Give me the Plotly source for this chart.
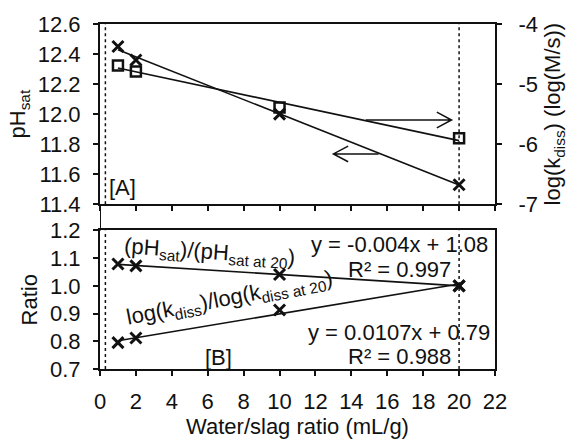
import numpy as np
import plotly.graph_objects as go

# ---- data ----
ratio_ws = [1, 2, 10, 20]                     # water/slag ratio (mL/g)
ph_sat = [12.45, 12.36, 12.00, 11.53]         # pH_sat (left axis, x markers)
log_kdiss = [-4.69, -4.79, -5.39, -5.90]      # log(k_diss) (right axis, squares)
ph_ratio = [1.079, 1.072, 1.041, 1.000]       # (pH_sat)/(pH_sat at 20)
kdiss_ratio = [0.795, 0.812, 0.913, 1.000]    # log(k_diss)/log(k_diss at 20)

x_ticks = list(range(0, 23, 2))
ph_ticks = [11.4, 11.6, 11.8, 12.0, 12.2, 12.4, 12.6]
k_ticks = [-7, -6, -5, -4]
k_ticklabels = ["-7", "-6", "-5", "-4"]
ratio_ticks = [0.7, 0.8, 0.9, 1.0, 1.1, 1.2]

FONT = "Liberation Sans, Arial, sans-serif"
FS = 22
BLACK = "#111111"

def fit_line(x, y):
    k, b = np.polyfit(x, y, 1)
    xs = np.array([min(x), max(x)], dtype=float)
    return xs, k * xs + b

fig = go.Figure()

xmark = dict(symbol="x-thin", size=11, line=dict(width=3, color=BLACK), color=BLACK)
sqmark = dict(symbol="square-open", size=10, line=dict(width=2.5, color=BLACK), color=BLACK)
fitline = dict(color=BLACK, width=1.6)

# top panel
fx, fy = fit_line(ratio_ws, ph_sat)
fig.add_trace(go.Scatter(x=fx, y=fy, mode="lines", line=fitline, xaxis="x2", yaxis="y2", showlegend=False))
fx, fy = fit_line(ratio_ws, log_kdiss)
fig.add_trace(go.Scatter(x=fx, y=fy, mode="lines", line=fitline, xaxis="x2", yaxis="y3", showlegend=False))
fig.add_trace(go.Scatter(x=ratio_ws, y=ph_sat, mode="markers", marker=xmark, xaxis="x2", yaxis="y2", showlegend=False))
fig.add_trace(go.Scatter(x=ratio_ws, y=log_kdiss, mode="markers", marker=sqmark, xaxis="x2", yaxis="y3", showlegend=False))

# bottom panel
fx, fy = fit_line(ratio_ws, ph_ratio)
fig.add_trace(go.Scatter(x=fx, y=fy, mode="lines", line=fitline, xaxis="x", yaxis="y", showlegend=False))
fx, fy = fit_line(ratio_ws, kdiss_ratio)
fig.add_trace(go.Scatter(x=fx, y=fy, mode="lines", line=fitline, xaxis="x", yaxis="y", showlegend=False))
fig.add_trace(go.Scatter(x=ratio_ws, y=ph_ratio, mode="markers", marker=xmark, xaxis="x", yaxis="y", showlegend=False))
fig.add_trace(go.Scatter(x=ratio_ws, y=kdiss_ratio, mode="markers", marker=xmark, xaxis="x", yaxis="y", showlegend=False))

TOP_DOM = [0.4775, 1.0]
BOT_DOM = [0.0, 0.4017]

axis_common = dict(showgrid=False, zeroline=False, showline=True, linecolor=BLACK, linewidth=2,
                   ticks="outside", ticklen=5, tickwidth=1.5, tickcolor=BLACK,
                   tickfont=dict(family=FONT, size=FS, color=BLACK))

fig.update_layout(
    width=573, height=442,
    margin=dict(l=100, r=72, t=14, b=72),
    plot_bgcolor="white", paper_bgcolor="white",
    font=dict(family=FONT, size=FS, color=BLACK),
    xaxis=dict(**axis_common, range=[0, 22], tickvals=x_ticks, mirror=True, anchor="y",
               ticklabelstandoff=7,
               title=dict(text="Water/slag ratio (mL/g)", font=dict(size=FS), standoff=0)),
    yaxis=dict(**axis_common, domain=BOT_DOM, range=[0.7, 1.2], tickvals=ratio_ticks, tickformat=".1f",
               mirror=True, anchor="x", ticklabelstandoff=8,
               title=dict(text="Ratio", font=dict(size=FS), standoff=6)),
    xaxis2=dict(**axis_common, range=[0, 22], tickvals=x_ticks, showticklabels=False, mirror=True,
                anchor="y2", matches="x"),
    yaxis2=dict(**axis_common, domain=TOP_DOM, range=[11.4, 12.6], tickvals=ph_ticks, tickformat=".1f",
                anchor="x2", ticklabelstandoff=8,
                title=dict(text="pH<sub>sat</sub>", font=dict(size=FS), standoff=6)),
    yaxis3=dict(**axis_common, range=[-7, -4], tickvals=k_ticks, ticktext=k_ticklabels,
                overlaying="y2", side="right", anchor="x2", ticklabelstandoff=12,
                title=dict(text="log(k<sub>diss</sub>) (log(M/s))", font=dict(size=FS), standoff=8)),
)

shapes = []
# left axis line continuing through the gap
shapes.append(dict(type="line", xref="x", yref="paper", x0=0, x1=0, y0=BOT_DOM[1], y1=TOP_DOM[0],
                   line=dict(color=BLACK, width=2)))
# dotted vertical lines
for xv in (0.3, 20):
    shapes.append(dict(type="line", xref="x2", yref="y2", x0=xv, x1=xv, y0=11.4, y1=12.6,
                       line=dict(color=BLACK, width=1.5, dash="dot")))
    shapes.append(dict(type="line", xref="x", yref="y", x0=xv, x1=xv, y0=0.7, y1=1.2,
                       line=dict(color=BLACK, width=1.5, dash="dot")))
# arrows (open chevron heads) in the top panel, left-axis units
arr = dict(color=BLACK, width=1.5)
shapes.append(dict(type="path", xref="x2", yref="y2",
                   path="M 14.8 11.961 L 19.58 11.961 M 18.76 12.013 L 19.58 11.961 L 18.76 11.909",
                   line=arr))
shapes.append(dict(type="path", xref="x2", yref="y2",
                   path="M 15.52 11.735 L 13.0 11.735 M 13.82 11.787 L 13.0 11.735 L 13.82 11.683",
                   line=arr))
fig.update_layout(shapes=shapes)

ann = []
def A(x, y, text, xref="x", yref="y", angle=0, xanchor="center"):
    ann.append(dict(x=x, y=y, xref=xref, yref=yref, text=text, showarrow=False, textangle=angle,
                    xanchor=xanchor, yanchor="middle", font=dict(family=FONT, size=FS, color=BLACK)))

A(1.27, 11.51, "[A]", xref="x2", yref="y2")
A(6.58, 0.742, "[B]")
A(6.1, 1.12, "(pH<sub>sat</sub>)/(pH<sub>sat at 20</sub>)", angle=4)
A(7.2, 0.953, "log(k<sub>diss</sub>)/log(k<sub>diss at 20</sub>)", angle=-11)
A(16.68, 1.148, "y = -0.004x + 1.08")
A(16.68, 1.060, "R² = 0.997")
A(16.68, 0.833, "y = 0.0107x + 0.79")
A(16.68, 0.745, "R² = 0.988")
fig.update_layout(annotations=ann)

fig.write_html("out.html")
